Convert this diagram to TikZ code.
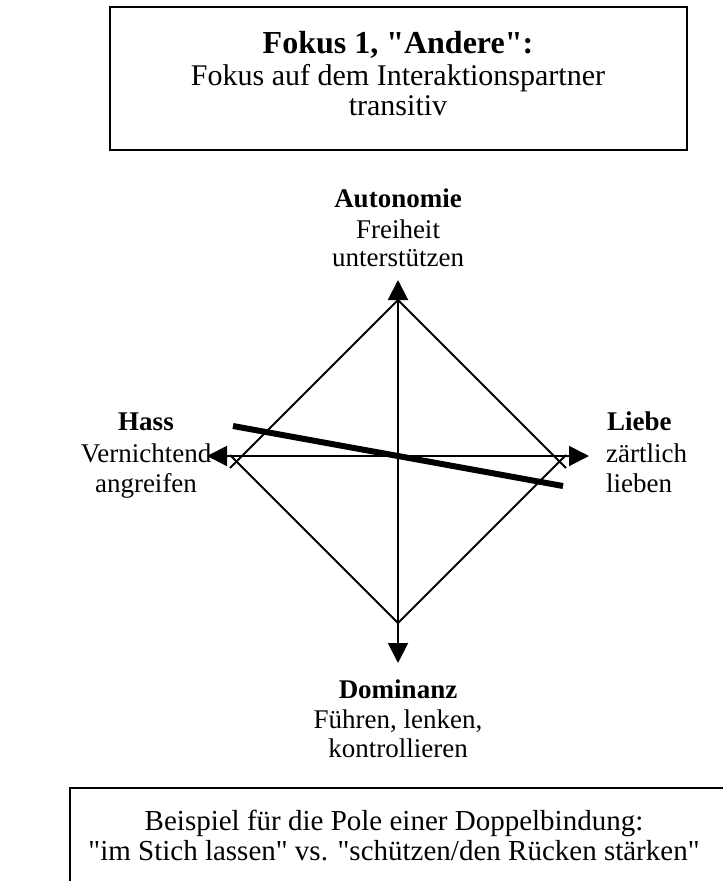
\documentclass[tikz,border=0pt]{standalone}
\usepackage{fontspec}
\setmainfont{Liberation Serif}[Ligatures=TeXOff]
\usetikzlibrary{arrows.meta}
\begin{document}
\begin{tikzpicture}[x=1pt,y=-1pt,
  txt/.style={anchor=base,inner sep=0pt,font=\fontsize{27}{30}\selectfont},
  ttl/.style={txt,font=\fontsize{27}{30}\selectfont\bfseries},
  boxtxt/.style={anchor=base,inner sep=0pt,font=\fontsize{30}{31}\selectfont},
  boxttl/.style={boxtxt,font=\fontsize{32}{31}\selectfont\bfseries},
  btmtxt/.style={anchor=base,inner sep=0pt,font=\fontsize{29}{30}\selectfont},
  frame/.style={line width=2.5pt},
  edge/.style={line width=2pt},
  axis/.style={line width=2pt,{Triangle[length=20pt,width=20pt]}-{Triangle[length=20pt,width=20pt]}},
  bond/.style={line width=6pt}]
\useasboundingbox (0,0) rectangle (723,881);
\fill[white] (0,0) rectangle (723,881);
% top box
\draw[frame] (110,7) rectangle (687,150);
\node[boxttl] (t1) at (398,53) {Fokus 1, "Andere":};
\node[boxtxt] (t2) at (398,85) {Fokus auf dem Interaktionspartner};
\node[boxtxt] (t3) at (398,115) {transitiv};
% diamond
\coordinate (top) at (398,300);
\coordinate (bot) at (398,623);
\coordinate (ul) at (230,468);
\coordinate (ll) at (230,455);
\coordinate (ur) at (566,468);
\coordinate (lr) at (566,455);
\draw[edge] (top) -- (ul);
\draw[edge] (bot) -- (ll);
\draw[edge] (top) -- (ur);
\draw[edge] (bot) -- (lr);
% axes
\coordinate (aT) at (398,280);
\coordinate (aB) at (398,663);
\coordinate (aL) at (207,456);
\coordinate (aR) at (589,456);
\draw[axis] (aB) -- (aT);
\draw[axis] (aL) -- (aR);
% thick line
\coordinate (b1) at (233,426);
\coordinate (b2) at (563,486);
\draw[bond] (b1) -- (b2);
% labels
\node[ttl] (au) at (398,207) {Autonomie};
\node[txt] (au2) at (398,238) {Freiheit};
\node[txt] (au3) at (398,266) {unterstützen};
\node[ttl] (ha) at (146,430) {Hass};
\node[txt] (ha2) at (146,462) {Vernichtend};
\node[txt] (ha3) at (146,492) {angreifen};
\node[ttl,anchor=base west] (li) at (607,430) {Liebe};
\node[txt,anchor=base west] (li2) at (606,462) {zärtlich};
\node[txt,anchor=base west] (li3) at (606,492) {lieben};
\node[ttl] (do) at (398,698) {Dominanz};
\node[txt] (do2) at (398,728) {Führen, lenken,};
\node[txt] (do3) at (398,757) {kontrollieren};
% bottom box
\draw[frame] (70,881) -- (70,788) -- (723,788);
\node[btmtxt] (b1t) at (394,830) {Beispiel für die Pole einer Doppelbindung:};
\node[btmtxt] (b2t) at (394,860) {"im Stich lassen" vs. "schützen/den Rücken stärken"};
\end{tikzpicture}
\end{document}
